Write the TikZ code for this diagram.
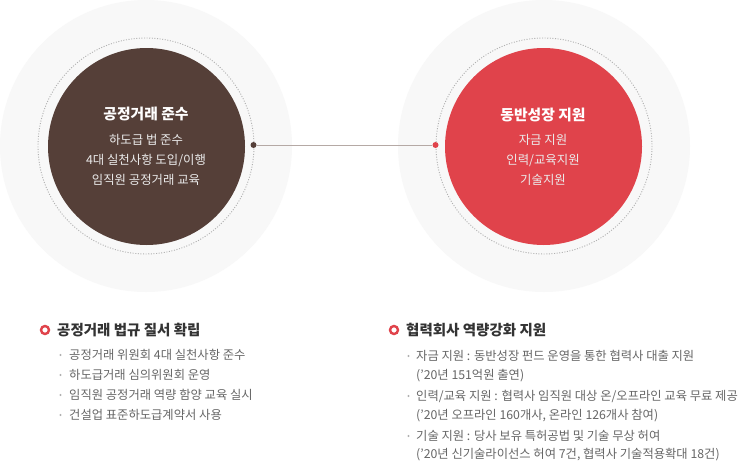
\documentclass[tikz,border=0pt]{standalone}
\usepackage{fontspec}
\setmainfont{Noto Sans CJK KR}
\definecolor{brownc}{HTML}{553F38}
\definecolor{redc}{HTML}{E0434B}
\definecolor{haloc}{HTML}{F8F8F8}
\definecolor{dashc}{HTML}{B0B0B0}
\definecolor{linkc}{HTML}{B5A9A5}
\definecolor{bodyc}{HTML}{666666}
\definecolor{headc}{HTML}{333333}
\definecolor{dotc}{HTML}{B0B0B0}
\begin{document}
\begin{tikzpicture}[x=1pt,y=-1pt,
  halo/.style={fill=haloc},
  ringline/.style={draw=dashc, dash pattern=on 1pt off 1.6pt, line width=0.9pt},
  bigdisc/.style={circle, inner sep=0pt, minimum size=197pt},
  ctitle/.style={text=white, font=\fontsize{14.8}{17}\selectfont\bfseries, inner sep=0pt},
  cbody/.style={text=white!92!black, font=\fontsize{12.4}{14}\selectfont, inner sep=0pt},
  joint/.style={circle, inner sep=0pt, minimum size=6pt},
  marker/.style={circle, draw=redc, line width=2.4pt, fill=white, inner sep=0pt, minimum size=8pt},
  htitle/.style={anchor=west, text=headc, font=\fontsize{14.5}{17}\selectfont\bfseries, inner sep=0pt},
  itembullet/.style={circle, fill=dotc, inner sep=0pt, minimum size=2.4pt},
  itemtext/.style={anchor=west, text=bodyc, font=\fontsize{12.3}{14}\selectfont, inner sep=0pt}
]
\useasboundingbox (0,0) rectangle (738,463);
\fill[white] (0,0) rectangle (738,463);

% left circle
\fill[halo] (146,146) circle (146);
\draw[ringline] (146,146) circle (108);
\node[bigdisc, fill=brownc] (lc) at (146.5,146.5) {};
\node[ctitle] (lt) at (146,114) {공정거래 준수};
\node[cbody] (l1) at (146,140) {하도급 법 준수};
\node[cbody] (l2) at (146,160) {4대 실천사항 도입/이행};
\node[cbody] (l3) at (146,180) {임직원 공정거래 교육};

% right circle
\fill[halo] (544,146) circle (146);
\draw[ringline] (544,146) circle (108);
\node[bigdisc, fill=redc] (rc) at (543.5,146.5) {};
\node[ctitle] (rt) at (543,115) {동반성장 지원};
\node[cbody] (r1) at (543,140) {자금 지원};
\node[cbody] (r2) at (543,160) {인력/교육지원};
\node[cbody] (r3) at (543,180) {기술지원};

% connector
\node[joint, fill=brownc] (ld) at (253.5,145) {};
\node[joint, fill=redc] (rd) at (435.5,145) {};
\draw[linkc, line width=0.8pt] (ld) -- (rd);

% bottom left
\node[marker] (m1) at (45,330) {};
\node[htitle] (h1) at (57,330) {공정거래 법규 질서 확립};
\foreach \y/\t [count=\i] in {355/공정거래 위원회 4대 실천사항 준수,
  375/하도급거래 심의위원회 운영,
  395/임직원 공정거래 역량 함양 교육 실시,
  415/건설업 표준하도급계약서 사용}{
  \node[itembullet] (lb\i) at (60.5,\y) {};
  \node[itemtext] (li\i) at (69,\y) {\t};
}

% bottom right
\node[marker] (m2) at (394,330) {};
\node[htitle] (h2) at (406,330) {협력회사 역량강화 지원};
\node[itembullet] (rb1) at (408.5,356) {};
\node[itemtext] (ri1) at (416,356) {자금 지원 : 동반성장 펀드 운영을 통한 협력사 대출 지원};
\node[itemtext] (ri2) at (416,375.5) {(’20년 151억원 출연)};
\node[itembullet] (rb2) at (408.5,396) {};
\node[itemtext] (ri3) at (416,396) {인력/교육 지원 : 협력사 임직원 대상 온/오프라인 교육 무료 제공};
\node[itemtext] (ri4) at (416,415.5) {(’20년 오프라인 160개사, 온라인 126개사 참여)};
\node[itembullet] (rb3) at (408.5,436) {};
\node[itemtext] (ri5) at (416,436) {기술 지원 : 당사 보유 특허공법 및 기술 무상 허여};
\node[itemtext] (ri6) at (416,455) {(’20년 신기술라이선스 허여 7건, 협력사 기술적용확대 18건)};
\end{tikzpicture}
\end{document}
